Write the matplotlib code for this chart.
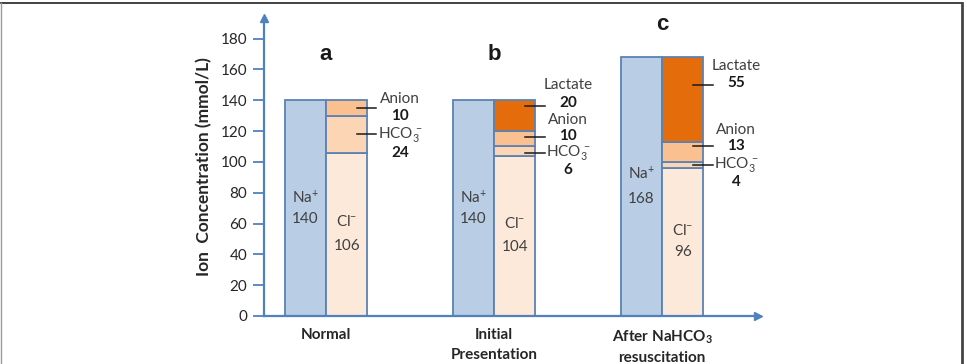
import matplotlib
matplotlib.use("Agg")
import matplotlib.pyplot as plt
import numpy as np
from matplotlib.lines import Line2D

plt.rcParams["font.family"] = ["Lato", "DejaVu Sans"]
plt.rcParams["mathtext.fontset"] = "custom"
plt.rcParams["mathtext.rm"] = "Lato"
plt.rcParams["mathtext.it"] = "Lato:italic"
plt.rcParams["mathtext.bf"] = "Lato:bold"

# data
groups = ["Normal", "Initial\nPresentation", "After NaHCO$_\\mathbf{3}$\nresuscitation"]
letters = ["a", "b", "c"]
na = np.array([140, 140, 168])
cl = np.array([106, 104, 96])
hco3 = np.array([24, 6, 4])
anion = np.array([10, 10, 13])
lactate = np.array([0, 20, 55])
yticks = [0, 20, 40, 60, 80, 100, 120, 140, 160, 180]

# colours
c_axis = "#4f81bd"
c_edge = "#5b82b5"
c_na = "#b9cde5"
c_cl = "#fde9d9"
c_hco3 = "#fcd5b5"
c_anion = "#fac090"
c_lact = "#e46c0a"
txt = "#404040"

# callout layout: (name y, value y, leader y) -- leader is kept inside its segment
label_pos = [
    {"Anion": (141, 129.5, 135), "HCO3": (118, 106, 118)},
    {"Lactate": (150, 138.5, 136), "Anion": (127.5, 116.5, 116), "HCO3": (106, 94.5, 106)},
    {"Lactate": (162, 151, 150), "Anion": (121, 110, 110), "HCO3": (98, 87, 98)},
]
letter_y = [170, 170, 189]

fig = plt.figure(figsize=(9.67, 3.64), dpi=100)
ax = fig.add_axes([0.273, 0.132, 0.511, 0.819])

x = np.arange(len(groups))
w = 0.245
kw = dict(edgecolor=c_edge, linewidth=1.3, align="edge")
ax.bar(x - w, na, w, color=c_na, **kw)
ax.bar(x, cl, w, color=c_cl, **kw)
ax.bar(x, hco3, w, bottom=cl, color=c_hco3, **kw)
ax.bar(x, anion, w, bottom=cl + hco3, color=c_anion, **kw)
mask = lactate > 0
ax.bar(x[mask], lactate[mask], w, bottom=(cl + hco3 + anion)[mask], color=c_lact, **kw)

fs = 11
for i in x:
    # inside labels
    ax.text(i - w / 2, na[i] * 0.55, "Na$^{+}$", ha="center", va="center", fontsize=fs, color=txt)
    ax.text(i - w / 2, na[i] * 0.45, str(na[i]), ha="center", va="center", fontsize=fs, color=txt)
    ax.text(i + w / 2, cl[i] * 0.58, "Cl$^{-}$", ha="center", va="center", fontsize=fs, color=txt)
    ax.text(i + w / 2, cl[i] * 0.43, str(cl[i]), ha="center", va="center", fontsize=fs, color=txt)
    ax.text(i, letter_y[i], letters[i], ha="center", va="center", fontsize=16,
            fontweight="bold", family="Liberation Sans", color="#1a1a1a")

    segs = {
        "HCO3": (cl[i], hco3[i]),
        "Anion": (cl[i] + hco3[i], anion[i]),
        "Lactate": (cl[i] + hco3[i] + anion[i], lactate[i]),
    }
    for name, (ny, vy, ly) in label_pos[i].items():
        b, h = segs[name]
        ly = min(max(ly, b + 1.5), b + h - 1.5)
        ax.plot([i + 0.185, i + 0.30], [ly, ly], color="#1a1a1a", lw=1.1)
        if name == "HCO3":
            ax.text(i + 0.31, ny, "HCO$_3^{\\,-}$", ha="left", va="center", fontsize=fs, color=txt)
        else:
            ax.text(i + 0.44, ny, name, ha="center", va="center", fontsize=fs, color=txt)
        ax.text(i + 0.44, vy, str(h), ha="center", va="center", fontsize=fs,
                fontweight="bold", color="#1a1a1a")

ax.set_xlim(-0.369, 2.571)
ax.set_ylim(0, 193.5)
ax.set_yticks(yticks)
ax.set_yticklabels([str(t) for t in yticks], fontsize=11, color="#262626")
ax.set_xticks(x)
ax.set_xticklabels(groups, fontsize=11, fontweight="bold", color="#262626", linespacing=1.5)
ax.tick_params(axis="x", length=0, pad=9)
ax.tick_params(axis="y", length=8, width=1.3, color=c_axis, pad=4)
ax.set_ylabel("Ion  Concentration (mmol/L)", fontsize=12.5, fontweight="bold", color="#262626", labelpad=6)

for s in ["top", "right"]:
    ax.spines[s].set_visible(False)
for s in ["left", "bottom"]:
    ax.spines[s].set_color(c_axis)
    ax.spines[s].set_linewidth(1.6)
ax.plot(1, 0, ">", color=c_axis, markersize=6, transform=ax.transAxes, clip_on=False)
ax.plot(0, 1, "^", color=c_axis, markersize=6, transform=ax.transAxes, clip_on=False)

# outer frame
fig.add_artist(Line2D([0.0015, 0.995], [0.991, 0.991], color="#333333", lw=1.3))
fig.add_artist(Line2D([0.0015, 0.0015], [0.991, 0.0], color="#9a9a9a", lw=1.0))
fig.add_artist(Line2D([0.995, 0.995], [0.991, 0.0], color="#444444", lw=2.0))

fig.savefig("out.png", dpi=100)
